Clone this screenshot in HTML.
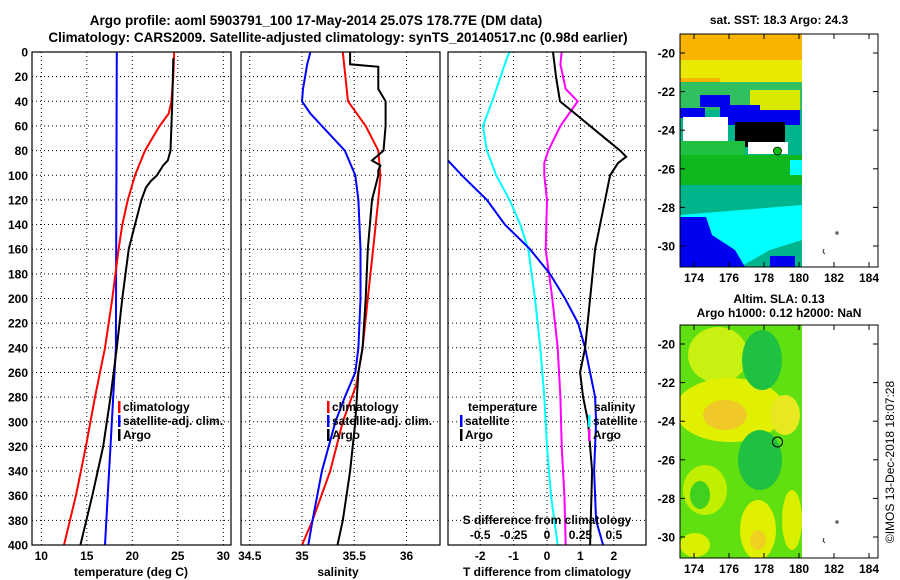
<!DOCTYPE html>
<html><head><meta charset="utf-8">
<style>
body{margin:0;background:#fff;}
svg{display:block;font-family:"Liberation Sans",sans-serif;font-weight:bold;}
</style></head>
<body>
<svg id="fig" width="900" height="580" viewBox="0 0 900 580">
<text x="316" y="25" font-size="13.5" text-anchor="middle">Argo profile: aoml 5903791_100 17-May-2014 25.07S 178.77E (DM data)</text>
<text x="338" y="42" font-size="13.5" text-anchor="middle">Climatology: CARS2009. Satellite-adjusted climatology: synTS_20140517.nc (0.98d earlier)</text>

<!-- SST map -->
<g>
<text x="779" y="24" font-size="12" text-anchor="middle">sat. SST: 18.3 Argo: 24.3</text>
<clipPath id="cm1"><rect x="680" y="34" width="122" height="233"/></clipPath>
<g clip-path="url(#cm1)">
<rect x="680" y="34" width="122" height="233" fill="#00b48c"/>
<rect x="680" y="34" width="122" height="30" fill="#f8b400"/>
<rect x="680" y="60" width="122" height="22" fill="#e8e800"/>
<rect x="680" y="78" width="40" height="10" fill="#f8b400"/>
<rect x="680" y="82" width="122" height="28" fill="#30c060"/>
<rect x="750" y="90" width="50" height="25" fill="#d8e800"/>
<rect x="700" y="95" width="30" height="12" fill="#0000f0"/>
<rect x="720" y="105" width="40" height="20" fill="#0000f0"/>
<rect x="680" y="108" width="25" height="10" fill="#0000f0"/>
<rect x="760" y="110" width="40" height="15" fill="#0000f0"/>
<rect x="683" y="117" width="45" height="24" fill="#fff"/>
<rect x="735" y="122" width="50" height="25" fill="#000"/>
<rect x="748" y="142" width="40" height="12" fill="#fff"/>
<rect x="680" y="141" width="65" height="20" fill="#20c040"/>
<rect x="680" y="155" width="122" height="30" fill="#10b820"/>
<rect x="680" y="185" width="122" height="30" fill="#00b48c"/>
<polygon points="680,215 802,205 802,240 770,250 740,267 680,267" fill="#00ffff"/>
<polygon points="680,217 706,217 712,235 735,250 745,267 680,267" fill="#0000f0"/>
<rect x="770" y="256" width="25" height="11" fill="#0000f0"/>
<rect x="790" y="160" width="12" height="15" fill="#00ffff"/>
</g>
<rect x="680" y="34" width="198" height="233" fill="none" stroke="#000" stroke-width="1"/>
<circle cx="777.5" cy="151" r="4" fill="#10c010" stroke="#000" stroke-width="0.8"/>
<path d="M836 232h2v2h-2zM824 249l-1 3 2 2" stroke="#000" fill="none" stroke-width="0.8"/>
</g>

<!-- SLA map -->
<g>
<text x="779" y="303" font-size="12" text-anchor="middle">Altim. SLA: 0.13</text>
<text x="779" y="317" font-size="12" text-anchor="middle">Argo h1000: 0.12 h2000: NaN</text>
<clipPath id="cm2"><rect x="680" y="325" width="122" height="233"/></clipPath>
<g clip-path="url(#cm2)">
<rect x="680" y="325" width="122" height="233" fill="#60e010"/>
<ellipse cx="718" cy="355" rx="30" ry="28" fill="#c8f010"/>
<ellipse cx="730" cy="410" rx="55" ry="32" fill="#e0f000"/>
<ellipse cx="725" cy="415" rx="22" ry="15" fill="#f0c828"/>
<ellipse cx="785" cy="415" rx="15" ry="20" fill="#e8e820"/>
<ellipse cx="762" cy="360" rx="20" ry="30" fill="#20c040"/>
<ellipse cx="760" cy="460" rx="22" ry="30" fill="#20c040"/>
<ellipse cx="705" cy="490" rx="22" ry="25" fill="#c0f000"/>
<ellipse cx="700" cy="495" rx="10" ry="14" fill="#40d020"/>
<ellipse cx="758" cy="530" rx="18" ry="30" fill="#e0f000"/>
<ellipse cx="758" cy="540" rx="8" ry="10" fill="#f0d020"/>
<ellipse cx="792" cy="520" rx="10" ry="30" fill="#d8f000"/>
<ellipse cx="695" cy="545" rx="15" ry="12" fill="#d8f000"/>
</g>
<rect x="680" y="325" width="198" height="233" fill="none" stroke="#000" stroke-width="1"/>
<circle cx="777.5" cy="442" r="5" fill="none" stroke="#000" stroke-width="1"/>
<path d="M836 521h2v2h-2zM824 538l-1 3 2 2" stroke="#000" fill="none" stroke-width="0.8"/>
</g>
<text transform="translate(894,462) rotate(-90)" font-size="12" font-weight="normal" text-anchor="middle">©IMOS 13-Dec-2018 18:07:28</text>
<g id="dyn"></g>
</svg>
<script>
// ---- data ----
const depthTicks=[0,20,40,60,80,100,120,140,160,180,200,220,240,260,280,300,320,340,360,380,400];
const tempTicks=[10,15,20,25,30];
const salTicks=[34.5,35,35.5,36];
const tdiffTicks=[-2,-1,0,1,2];
const sdiffTicks=[-0.5,-0.25,0,0.25,0.5];
const latTicks=[-20,-22,-24,-26,-28,-30];
const lonTicks=[174,176,178,180,182,184];

const climTDepth=[0,20,40,50,60,70,80,100,120,140,160,200,240,280,320,360,400];
const climT=[24.6,24.5,24.3,24,23,22.2,21.4,20.3,19.5,18.9,18.5,17.8,17.0,15.9,14.9,13.8,12.5];
const satTDepth=[0,240,280,320,360,400];
const satT=[18.3,18.2,17.9,17.6,17.3,17.0];
const argoTDepth=[5,40,60,80,88,92,100,105,110,120,140,160,200,240,280,320,360,400];
const argoT=[24.5,24.4,24.3,24.2,23.9,23.4,22.7,22.0,21.5,21.0,20.3,19.6,18.9,18.3,17.6,16.8,15.6,14.3];

const climSDepth=[0,40,60,80,100,120,160,200,240,270,300,340,380,400];
const climS=[35.39,35.44,35.61,35.73,35.75,35.73,35.68,35.63,35.58,35.52,35.39,35.27,35.10,35.0];
const satSDepth=[0,10,30,40,50,60,80,100,120,160,200,240,260,280,300,340,380,400];
const satS=[35.08,35.05,35.01,35.0,35.08,35.19,35.41,35.51,35.54,35.56,35.56,35.54,35.51,35.41,35.32,35.19,35.10,35.06];
const argoSDepth=[0,10,12,30,40,60,80,88,92,96,100,120,160,200,240,260,300,340,380,400];
const argoS=[35.46,35.46,35.73,35.73,35.80,35.80,35.78,35.67,35.75,35.73,35.73,35.67,35.63,35.61,35.58,35.54,35.51,35.46,35.39,35.34];

const satTdDepth=[60,87,100,120,140,160,180,200,220,240,260,280,300,340,380,400];
const satTd=[-4.4,-3.0,-2.55,-1.8,-1.26,-0.51,0.09,0.54,0.93,1.14,1.29,1.44,1.47,1.41,1.47,1.68];
const argoTdDepth=[0,20,40,50,60,70,80,85,90,100,120,140,160,200,240,260,280,300,340,400];
const argoTd=[0.18,0.27,0.39,0.84,1.29,1.74,2.19,2.37,2.13,1.89,1.74,1.59,1.44,1.29,1.14,0.99,1.08,1.23,1.35,1.29];
const satSdDepth=[0,5,40,60,80,100,120,140,160,200,240,280,320,360,400];
const satSd=[-0.28,-0.30,-0.41,-0.48,-0.45,-0.38,-0.28,-0.20,-0.14,-0.09,-0.05,-0.02,0,0.03,0.08];
const argoSdDepth=[0,10,30,40,60,80,90,100,120,160,200,240,280,320,360,400];
const argoSd=[0.11,0.10,0.14,0.23,0.10,0.01,-0.02,-0.02,0,-0.01,0.04,0.08,0.10,0.11,0.13,0.14];

// ---- drawing ----
const NS='http://www.w3.org/2000/svg';
const root=document.getElementById('dyn');
function mk(tag,attrs,parent){const e=document.createElementNS(NS,tag);for(const k in attrs)e.setAttribute(k,attrs[k]);(parent||root).appendChild(e);return e;}
const Y0=52,Y1=545;
const yD=d=>Y0+d*(Y1-Y0)/400;
const xT=t=>41.3+(t-10)*9.1;
const xS=s=>302+(s-35)*104.5;
const xTd=t=>547+t*33.4;
const xSd=s=>547+s*133.6;
const panels=[{x0:32,x1:231,name:'temperature-panel'},{x0:241,x1:440,name:'salinity-panel'},{x0:448,x1:646,name:'difference-panel'}];

panels.forEach((p,i)=>{
  const g=mk('g',{});
  
  
  const cp=mk('clipPath',{id:'cp'+i},g);
  mk('rect',{x:p.x0,y:Y0,width:p.x1-p.x0,height:Y1-Y0},cp);
  p.g=g;
  depthTicks.forEach(d=>{
    const l=mk('line',{x1:p.x0,x2:p.x1,y1:yD(d),y2:yD(d),stroke:'#000','stroke-width':1,'stroke-dasharray':'1 3'},g);
    
    
  });
});
function vgrid(p,ticks,fx,labels){
  ticks.forEach((t,k)=>{
    const x=fx(t);
    const l=mk('line',{x1:x,x2:x,y1:Y0,y2:Y1,stroke:'#000','stroke-width':1,'stroke-dasharray':'1 3'},p.g);
    
    
    const tx=mk('text',{x:x,y:560,'font-size':12,'text-anchor':'middle'},p.g);
    tx.textContent=labels?labels[k]:String(t);
    
    
  });
}
vgrid(panels[0],tempTicks,xT);
vgrid(panels[1],salTicks,xS);
vgrid(panels[2],tdiffTicks,xTd);
depthTicks.forEach(d=>{
  const t=mk('text',{x:28,y:yD(d)+4.5,'font-size':12,'text-anchor':'end'});
  t.textContent=String(d);
  
  
});
function line(p,i,depths,vals,fx,color,name){
  const pts=depths.map((d,k)=>fx(vals[k]).toFixed(1)+','+yD(d).toFixed(1)).join(' ');
  const pl=mk('polyline',{points:pts,fill:'none',stroke:color,'stroke-width':2,'clip-path':'url(#cp'+i+')'},p.g);
  
  
}
line(panels[0],0,satTDepth,satT,xT,'#0000ff','temp-satellite-line');
line(panels[0],0,climTDepth,climT,xT,'#ff0000','temp-climatology-line');
line(panels[0],0,argoTDepth,argoT,xT,'#000','temp-argo-line');
line(panels[1],1,climSDepth,climS,xS,'#ff0000','sal-climatology-line');
line(panels[1],1,satSDepth,satS,xS,'#0000ff','sal-satellite-line');
line(panels[1],1,argoSDepth,argoS,xS,'#000','sal-argo-line');
line(panels[2],2,satSdDepth,satSd,xSd,'#00ffff','sdiff-satellite-line');
line(panels[2],2,argoSdDepth,argoSd,xSd,'#ff00ff','sdiff-argo-line');
line(panels[2],2,satTdDepth,satTd,xTd,'#0000ff','tdiff-satellite-line');
line(panels[2],2,argoTdDepth,argoTd,xTd,'#000','tdiff-argo-line');

panels.forEach(p=>{
  const r=mk('rect',{x:p.x0,y:Y0,width:p.x1-p.x0,height:Y1-Y0,fill:'none',stroke:'#000','stroke-width':1.2},p.g);
  
  
});
sdiffTicks.forEach(s=>{
  const t=mk('text',{x:xSd(s),y:539,'font-size':12,'text-anchor':'middle'},panels[2].g);
  t.textContent=String(s);
  
  
});
function txt(x,y,s,name,anchor,size){
  const t=mk('text',{x:x,y:y,'font-size':size||12,'text-anchor':anchor||'start'});
  t.textContent=s;
  
  
  return t;
}
txt(547,524,'S difference from climatology','sdiff-axis-title','middle');
txt(131,576,'temperature (deg C)','temp-axis-title','middle');
txt(338,576,'salinity','sal-axis-title','middle');
txt(547,576,'T difference from climatology','tdiff-axis-title','middle');
function leg(x,y,color,label){
  const m=mk('rect',{x:x,y:y-10,width:2.5,height:12,fill:color});
  
  
  txt(x+5,y,label,'legend-entry');
}
[[118,'#ff0000','climatology'],[118,'#0000ff','satellite-adj. clim.'],[118,'#000','Argo']].forEach((e,k)=>leg(e[0],411+k*14,e[1],e[2]));
[[327,'#ff0000','climatology'],[327,'#0000ff','satellite-adj. clim.'],[327,'#000','Argo']].forEach((e,k)=>leg(e[0],411+k*14,e[1],e[2]));
txt(468,411,'temperature','legend-title-temperature');
leg(460,425,'#0000ff','satellite');leg(460,439,'#000','Argo');
txt(594,411,'salinity','legend-title-salinity');
leg(588,425,'#00ffff','satellite');leg(588,439,'#ff00ff','Argo');

function mapAxes(top,latY0,name){
  const g=mk('g',{});
  
  
  const bot=top+233;
  latTicks.forEach(l=>{
    const y=latY0+(-20-l)*19.3;
    mk('line',{x1:680,x2:685,y1:y,y2:y,stroke:'#000'},g);
    mk('line',{x1:873,x2:878,y1:y,y2:y,stroke:'#000'},g);
    const t=mk('text',{x:675,y:y+4.5,'font-size':12,'text-anchor':'end'},g);
    t.textContent=String(l);
    
    
  });
  lonTicks.forEach(l=>{
    const x=694+(l-174)*17.5;
    mk('line',{x1:x,x2:x,y1:top,y2:top+5,stroke:'#000'},g);
    mk('line',{x1:x,x2:x,y1:bot-5,y2:bot,stroke:'#000'},g);
    const t=mk('text',{x:x,y:bot+15,'font-size':12,'text-anchor':'middle'},g);
    t.textContent=String(l);
    
    
  });
}
mapAxes(34,53,'sst-map-axes');
mapAxes(325,344,'sla-map-axes');
</script>
</body></html>
